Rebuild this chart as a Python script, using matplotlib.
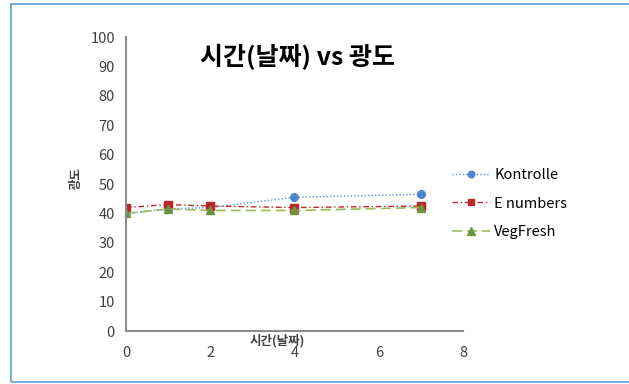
import matplotlib.pyplot as plt
from matplotlib.patches import Rectangle

plt.rcParams['font.family'] = ['Noto Sans CJK KR', 'DejaVu Sans']

days = [0, 1, 2, 4, 7]
kontrolle = [40, 41.5, 42, 45.5, 46.5]
e_numbers = [42, 43, 42.5, 42, 42.5]
vegfresh = [40, 41.5, 41, 41, 42]

fig = plt.figure(figsize=(6.29, 3.84), dpi=100)
ax = fig.add_axes([0.2003, 0.138, 0.5357, 0.7656])

# chart frame
fig.patches.append(Rectangle((0.018, 0.005), 1.2, 0.985, transform=fig.transFigure,
                             fill=False, edgecolor='#5b9bd5', linewidth=1.2))

ax.plot(days, kontrolle, linestyle=(0, (1, 1.5)), color='#5b8fd6', lw=1, marker='o', ms=5.5,
        markerfacecolor='#4a86d0', markeredgecolor='#4a86d0', label='Kontrolle')
ax.plot(days, e_numbers, linestyle=(0, (4, 2, 1, 2)), color='#c0282d', lw=1, marker='s', ms=5.5,
        markerfacecolor='#b9262b', markeredgecolor='#b9262b', label='E numbers')
ax.plot(days, vegfresh, linestyle=(0, (6, 3)), color='#9bbb59', lw=1.2, marker='^', ms=6,
        markerfacecolor='#6f9440', markeredgecolor='#6f9440', label='VegFresh')

ax.set_xlim(0, 8)
ax.set_ylim(0, 100)
ax.set_xticks(range(0, 9, 2))
ax.set_yticks(range(0, 101, 10))
ax.tick_params(length=0, labelsize=10.5, colors='#404040', pad=8)
ax.tick_params(axis='x', pad=11)
for s in ['top', 'right']:
    ax.spines[s].set_visible(False)
for s in ['left', 'bottom']:
    ax.spines[s].set_color('#8c8c8c')
    ax.spines[s].set_linewidth(1.5)

ax.set_title('시간(날짜) vs 광도', fontsize=18, fontweight='bold', x=0.51, y=0.875)
ax.set_xlabel('시간(날짜)', fontsize=9, fontweight='bold', color='#404040')
ax.xaxis.set_label_coords(0.45, -0.01)
ax.set_ylabel('광도', fontsize=9, fontweight='bold', color='#404040')
ax.yaxis.set_label_coords(-0.13, 0.52)

fig.legend(loc='center left', bbox_to_anchor=(0.698, 0.47), frameon=False,
           fontsize=10.5, labelspacing=1.0, handlelength=2.6, handletextpad=0.3,
           markerscale=0.85)

fig.savefig('out.png', dpi=100)
